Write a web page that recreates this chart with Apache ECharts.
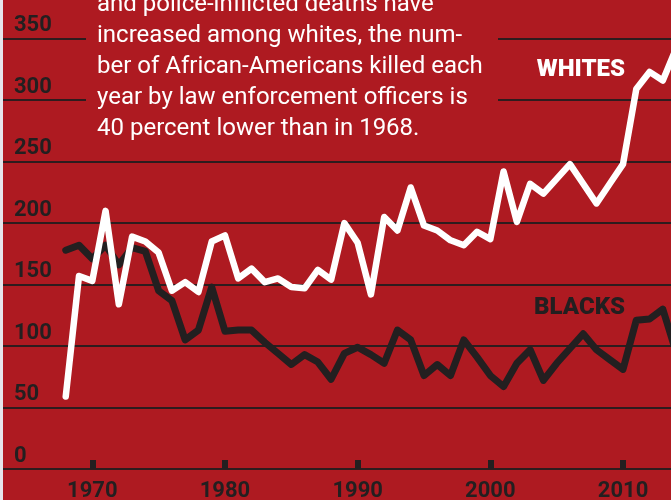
<!DOCTYPE html>
<html>
<head>
<meta charset="utf-8">
<script src="https://cdn.jsdelivr.net/npm/echarts@6/dist/echarts.min.js"></script>
<style>
  html, body { margin: 0; padding: 0; background: #e6e6eb; }
  #chart { width: 671px; height: 500px; }
</style>
</head>
<body>
<div id="chart"></div>
<script>
const years = [1968, 1969, 1970, 1971, 1972, 1973, 1974, 1975, 1976, 1977,
  1978, 1979, 1980, 1981, 1982, 1983, 1984, 1985, 1986, 1987,
  1988, 1989, 1990, 1991, 1992, 1993, 1994, 1995, 1996, 1997,
  1998, 1999, 2000, 2001, 2002, 2003, 2004, 2005, 2006, 2007,
  2008, 2009, 2010, 2011, 2012, 2013, 2014];

const whites = [59, 157, 153, 210, 134, 189, 185, 176, 145, 152,
  144, 185, 190, 155, 163, 152, 155, 148, 147, 162,
  154, 200, 184, 142, 205, 194, 229, 198, 194, 186,
  182, 193, 187, 242, 201, 232, 224, 236, 248, 232,
  216, 232, 248, 309, 323, 316, 342];

const blacks = [178, 182, 171, 182, 166, 180, 177, 145, 137, 105,
  113, 148, 112, 113, 113, 103, 94, 85, 93, 87,
  73, 94, 99, 93, 86, 113, 105, 76, 85, 76,
  105, 91, 76, 67, 86, 97, 72, 86, 98, 110,
  97, 89, 81, 121, 122, 130, 95];

const xTickLabels = ['1970', '1980', '1990', '2000', '2010'];
const yTickLabels = ['0', '50', '100', '150', '200', '250', '300', '350'];

const bodyLines = [
  'and police-inflicted deaths have',
  'increased among whites, the num-',
  'ber of African-Americans killed each',
  'year by law enforcement officers is',
  '40 percent lower than in 1968.'
];
const whitesLabel = 'WHITES';
const blacksLabel = 'BLACKS';

const RED = '#ae1a21';
const DARK = '#231f20';
const GRID = '#2e1c1e';

const chart = echarts.init(document.getElementById('chart'), null, { renderer: 'canvas' });

const option = {
  animation: false,
  backgroundColor: RED,
  grid: {
    left: -40.4,
    right: -84.7,
    top: 38.7,
    bottom: 31,
    containLabel: false,
    outerBoundsMode: 'none'
  },
  xAxis: {
    type: 'value',
    min: 1960,
    max: 2020,
    interval: 10,
    axisLine: { show: true, lineStyle: { color: GRID, width: 2 } },
    axisTick: { show: true, inside: true, length: 9, lineStyle: { color: DARK, width: 6 } },
    splitLine: { show: false },
    axisLabel: {
      show: true,
      margin: 11,
      color: DARK,
      fontFamily: 'Roboto',
      fontWeight: 'bold',
      fontSize: 22,
      showMinLabel: true,
      showMaxLabel: true,
      hideOverlap: false,
      formatter: v => (xTickLabels.indexOf(String(v)) >= 0 ? String(v) : '')
    }
  },
  yAxis: {
    type: 'value',
    min: 0,
    max: 350,
    interval: 50,
    axisLine: { show: false },
    axisTick: { show: false },
    splitLine: { show: true, lineStyle: { color: GRID, width: 2 } },
    axisLabel: {
      show: true,
      inside: true,
      margin: 54.4,
      align: 'left',
      verticalAlign: 'bottom',
      padding: [0, 0, 2, 0],
      color: DARK,
      fontFamily: 'Roboto',
      fontWeight: 'bold',
      fontSize: 22,
      showMinLabel: true,
      showMaxLabel: true,
      formatter: v => (yTickLabels.indexOf(String(v)) >= 0 ? String(v) : '')
    }
  },
  series: [
    {
      name: 'Blacks',
      type: 'line',
      data: years.map((y, i) => [y, blacks[i]]),
      showSymbol: false,
      symbol: 'none',
      silent: true,
      z: 3,
      lineStyle: { color: DARK, width: 7, join: 'round', cap: 'round' }
    },
    {
      name: 'Whites',
      type: 'line',
      data: years.map((y, i) => [y, whites[i]]),
      showSymbol: false,
      symbol: 'none',
      silent: true,
      z: 4,
      lineStyle: { color: '#ffffff', width: 6.5, join: 'round', cap: 'round' }
    }
  ],
  graphic: [
    {
      type: 'rect',
      z: 50,
      silent: true,
      shape: { x: 86, y: -5, width: 412, height: 150 },
      style: { fill: RED }
    },
    {
      type: 'text',
      z: 51,
      silent: true,
      style: {
        x: 97,
        y: 66.5,
        text: bodyLines.join('\n'),
        fill: '#ffffff',
        font: '24px Roboto',
        lineHeight: 31,
        textAlign: 'left',
        textVerticalAlign: 'middle'
      }
    },
    {
      type: 'text',
      z: 51,
      silent: true,
      style: {
        x: 625,
        y: 69.7,
        text: whitesLabel,
        fill: '#ffffff',
        font: '900 24px Roboto',
        textAlign: 'right',
        textVerticalAlign: 'middle'
      }
    },
    {
      type: 'text',
      z: 51,
      silent: true,
      style: {
        x: 625,
        y: 308.4,
        text: blacksLabel,
        fill: DARK,
        font: '900 24px Roboto',
        textAlign: 'right',
        textVerticalAlign: 'middle'
      }
    },
    {
      type: 'rect',
      z: 100,
      silent: true,
      shape: { x: 0, y: 0, width: 3, height: 500 },
      style: { fill: '#e6e6eb' }
    }
  ]
};

chart.setOption(option);
</script>
</body>
</html>
